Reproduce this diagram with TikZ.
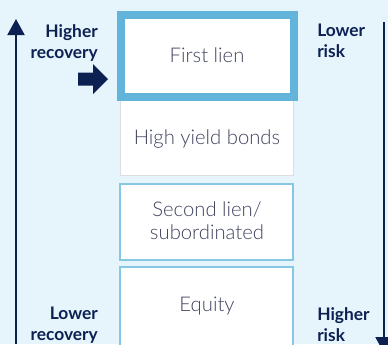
\documentclass[tikz,border=0pt]{standalone}
\usepackage{fontspec}
\setmainfont{Lato}
\newfontfamily\lightfont{Lato Light}
\usetikzlibrary{arrows.meta}
\definecolor{bgblue}{HTML}{E6F4FC}
\definecolor{edgeblue}{HTML}{62B4DA}
\definecolor{thinblue}{HTML}{86C7E4}
\definecolor{navy}{HTML}{0C2152}
\definecolor{boxtext}{HTML}{40445F}
\definecolor{faintgray}{HTML}{DADDE2}

\begin{document}
\begin{tikzpicture}[x=0.75pt, y=-0.75pt,
  tranche/.style={font=\lightfont\fontsize{15.2}{17.25}\selectfont, text=boxtext, align=center},
  sidelabel/.style={font=\bfseries\fontsize{13}{15.75}\selectfont, text=navy, inner sep=0pt},
  axis/.style={navy, line width=1.5pt, -{Triangle[length=12pt, width=12.75pt]}}]
\clip (0,0) rectangle (388,344);
\fill[bgblue] (0,0) rectangle (388,344);
% tranches
\draw[faintgray, fill=white, line width=0.75pt] (120,100) rectangle (293,175);
\node[tranche] (hyb) at (207,138.5) {High yield bonds};
\draw[edgeblue, fill=white, line width=6pt] (121,15) rectangle (294,97);
\node[tranche] (first) at (207,55) {First lien};
\draw[thinblue, fill=white, line width=1.1pt] (120,184) rectangle (293,260);
\node[tranche] (second) at (207,220.5) {Second lien/\\subordinated};
\draw[thinblue, fill=white, line width=1.1pt] (120,267) rectangle (293,352);
\node[tranche] (equity) at (207,306) {Equity};
% pointer
\fill[navy] (78,72.5) -- (93,72.5) -- (93,64) -- (108,79) -- (93,94) -- (93,85.5) -- (78,85.5) -- cycle;
% axes
\coordinate (recbot) at (16,344);
\coordinate (rectop) at (16,19);
\draw[axis] (recbot) -- (rectop);
\coordinate (risktop) at (384,22);
\coordinate (riskbot) at (384,353);
\draw[axis] (risktop) -- (riskbot);
\node[sidelabel, anchor=north east, align=right] (hirec) at (98,24) {Higher\\recovery};
\node[sidelabel, anchor=north west, align=left] (lorisk) at (317,24) {Lower\\risk};
\node[sidelabel, anchor=north east, align=right] (lorec) at (98,307) {Lower\\recovery};
\node[sidelabel, anchor=north west, align=left] (hirisk) at (317,307) {Higher\\risk};
\end{tikzpicture}
\end{document}
